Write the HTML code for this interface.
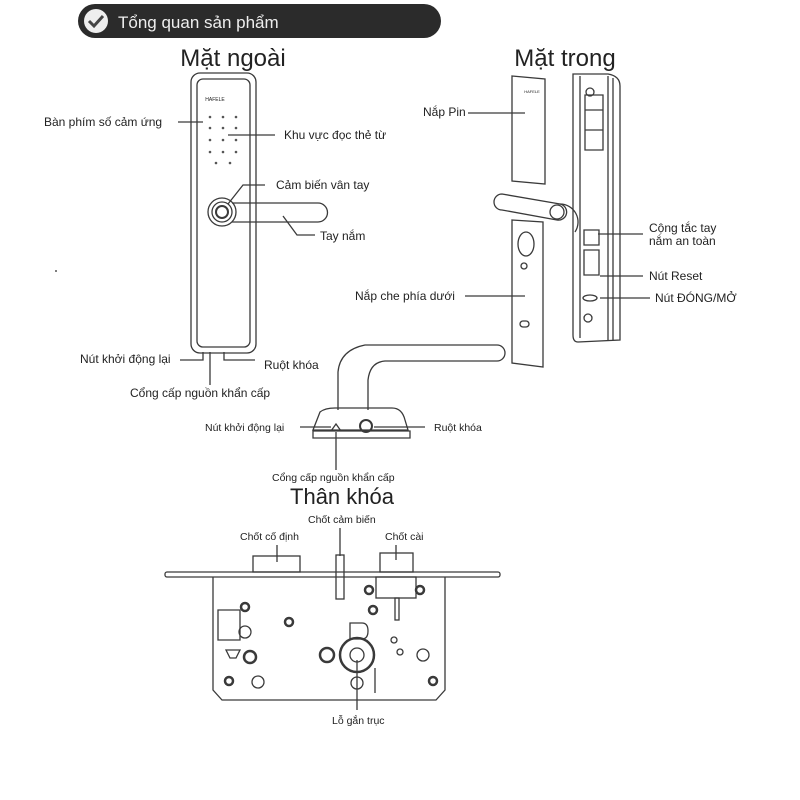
<!DOCTYPE html>
<html><head><meta charset="utf-8"><style>
html,body{margin:0;padding:0;background:#fff;}
svg{display:block;}
text{font-family:"Liberation Sans",sans-serif;fill:#222;}
</style></head><body>
<svg width="800" height="800" viewBox="0 0 800 800" xmlns="http://www.w3.org/2000/svg">
<rect width="800" height="800" fill="#fff"/>
<rect x="78" y="4" width="363" height="34" rx="17" fill="#2b2b2b"/>
<circle cx="96" cy="21" r="12" fill="#eee"/>
<path d="M89 21 l5 5 l9 -10" stroke="#444" stroke-width="3" fill="none"/>
<text x="118" y="28" font-size="17" style="fill:#eee">Tổng quan sản phẩm</text>

<g stroke="#3a3a3a" stroke-width="1.3" fill="none">
<rect x="191" y="73" width="65" height="280" rx="9"/>
<rect x="197" y="79" width="53" height="268" rx="6"/>
<circle cx="222" cy="212" r="14"/>
<circle cx="222" cy="212" r="10"/>
<circle cx="222" cy="212" r="6" stroke-width="2"/>
<path d="M232 203 H318 a9.5 9.5 0 0 1 0 19 H232"/>
<path d="M178 122 H203 M228 135 H275 M265 185 H243 L228 204 M283 216 L297 235 H315 M180 360 H203 V352 M224 352 V360 H255 M210 352 V385"/>
<path d="M512 76 L545 79 V184 L512 181 Z"/>
<path d="M573 74 L608 74 Q620 76 620 86 V340 L578 342 Q573 342 573 335 Z"/>
<path d="M580 76 V338 M608 76 V340 M613 78 V340"/>
<path d="M585 95 h18 v55 h-18 z M585 110 h18 M585 130 h18"/>
<circle cx="590" cy="92" r="4"/>
<circle cx="588" cy="318" r="4"/>
<path d="M584 230 h15 v15 h-15 z M584 250 h15 v25 h-15 z"/>
<ellipse cx="590" cy="298" rx="7" ry="3"/>
<path d="M512 220 L543 222 V367 L512 363 Z"/>
<ellipse cx="526" cy="244" rx="8" ry="12"/>
<circle cx="524" cy="266" r="3"/>
<rect x="520" y="321" width="9" height="6" rx="3"/>
<path d="M502 194 L560 204 A8 8 0 0 1 557 220 L502 210 A8 8 0 0 1 502 194 Z"/>
<circle cx="557" cy="212" r="7"/>
<path d="M560 204 A18 18 0 0 1 575 232"/>
<path d="M468 113 H525 M465 296 H525 M598 234 H643 M600 276 H643 M600 298 H650"/>
<path d="M338 410 V372 Q340 350 365 345 H497 a8 8 0 0 1 0 16 H385 Q370 362 368 380 V410"/>
<path d="M313 430 L320 412 Q325 408 335 408 H392 Q402 408 405 420 L408 430 Z"/>
<path d="M313 431 H410 V438 H313 Z"/>
<circle cx="366" cy="426" r="6" stroke-width="2"/>
<path d="M331 431 l5 -7 l5 7" />
<path d="M300 427 H331 M374 427 H425 M336 432 V470"/>
<rect x="165" y="572" width="335" height="5" rx="2"/>
<path d="M213 577 V690 L222 700 H436 L445 690 V577"/>
<rect x="253" y="556" width="47" height="16"/>
<rect x="380" y="553" width="33" height="19"/>
<rect x="376" y="577" width="40" height="21"/>
<rect x="336" y="555" width="8" height="44"/>
<rect x="395" y="598" width="4" height="22"/>
<path d="M277 545 V562 M340 528 V556 M396 545 V560 M357 660 V710"/>
<circle cx="357" cy="655" r="17" stroke-width="2.5"/>
<circle cx="357" cy="655" r="7"/>
<circle cx="327" cy="655" r="7" stroke-width="2.5"/>
<circle cx="250" cy="657" r="6" stroke-width="2.5"/>
<circle cx="245" cy="607" r="4" stroke-width="2.5"/>
<circle cx="289" cy="622" r="4" stroke-width="2.5"/>
<circle cx="369" cy="590" r="4" stroke-width="2.5"/>
<circle cx="420" cy="590" r="4" stroke-width="2.5"/>
<circle cx="373" cy="610" r="4" stroke-width="2.5"/>
<circle cx="229" cy="681" r="4" stroke-width="2.5"/>
<circle cx="433" cy="681" r="4" stroke-width="2.5"/>
<circle cx="245" cy="632" r="6"/>
<circle cx="258" cy="682" r="6"/>
<circle cx="357" cy="683" r="6"/>
<circle cx="423" cy="655" r="6"/>
<circle cx="394" cy="640" r="3"/>
<circle cx="400" cy="652" r="3"/>
<path d="M218 610 h22 v30 h-22 z M350 623 h12 q6 0 6 8 q0 8 -6 8 h-12 z M226 650 h14 l-4 8 h-6 z M375 668 v25"/>
</g>
<g font-size="12">
<text x="44" y="126">Bàn phím số cảm ứng</text>
<text x="284" y="139">Khu vực đọc thẻ từ</text>
<text x="276" y="189">Cảm biến vân tay</text>
<text x="320" y="240">Tay nắm</text>
<text x="80" y="363">Nút khởi động lại</text>
<text x="264" y="369">Ruột khóa</text>
<text x="130" y="397">Cổng cấp nguồn khẩn cấp</text>
<text x="423" y="116">Nắp Pin</text>
<text x="355" y="300">Nắp che phía dưới</text>
<text x="649" y="232">Cộng tắc tay</text>
<text x="649" y="245">nắm an toàn</text>
<text x="649" y="280">Nút Reset</text>
<text x="655" y="302">Nút ĐÓNG/MỞ</text>
</g>
<g font-size="10.5">
<text x="205" y="431">Nút khởi động lại</text>
<text x="434" y="431">Ruột khóa</text>
<text x="272" y="481">Cổng cấp nguồn khẩn cấp</text>
<text x="240" y="540">Chốt cố định</text>
<text x="308" y="523">Chốt cảm biến</text>
<text x="385" y="540">Chốt cài</text>
<text x="332" y="724">Lỗ gắn trục</text>
</g>
<text x="233" y="66" font-size="24" text-anchor="middle">Mặt ngoài</text>
<text x="565" y="66" font-size="24" text-anchor="middle">Mặt trong</text>
<text x="342" y="504" font-size="22" text-anchor="middle">Thân khóa</text>
<text x="215" y="101" font-size="5" text-anchor="middle">HAFELE</text>
<text x="532" y="93" font-size="4" text-anchor="middle">HAFELE</text>
<g fill="#555">
<circle cx="210" cy="117" r="1.3"/><circle cx="223" cy="117" r="1.3"/><circle cx="236" cy="117" r="1.3"/>
<circle cx="210" cy="128" r="1.3"/><circle cx="223" cy="128" r="1.3"/><circle cx="236" cy="128" r="1.3"/>
<circle cx="210" cy="140" r="1.3"/><circle cx="223" cy="140" r="1.3"/><circle cx="236" cy="140" r="1.3"/>
<circle cx="210" cy="152" r="1.3"/><circle cx="223" cy="152" r="1.3"/><circle cx="236" cy="152" r="1.3"/>
<circle cx="216" cy="163" r="1.3"/><circle cx="230" cy="163" r="1.3"/>
<circle cx="56" cy="271" r="1"/>
</g>
</svg>
</body></html>
